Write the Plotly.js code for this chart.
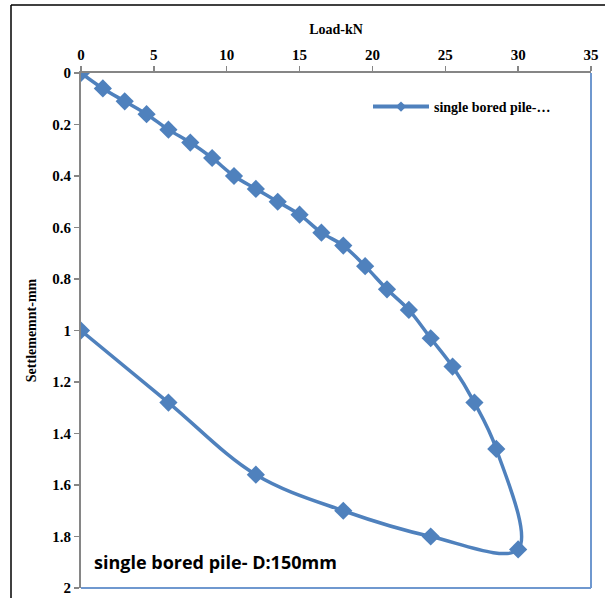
<!DOCTYPE html>
<html>
<head>
<meta charset="utf-8">
<script src="https://cdn.plot.ly/plotly-3.0.1.min.js"></script>
<style>
html,body{margin:0;padding:0;background:#fff;}
#chart{width:605px;height:598px;}
</style>
</head>
<body>
<div id="chart"></div>
<script>
// Load (kN) and settlement (mm): loading then unloading
const loadKN = [0, 1.5, 3, 4.5, 6, 7.5, 9, 10.5, 12, 13.5, 15, 16.5, 18, 19.5, 21, 22.5, 24, 25.5, 27, 28.5, 30,
                24, 18, 12, 6, 0];
const settlementMM = [0, 0.06, 0.11, 0.16, 0.22, 0.27, 0.33, 0.40, 0.45, 0.50, 0.55, 0.62, 0.67, 0.75, 0.84, 0.92, 1.03, 1.14, 1.28, 1.46, 1.85,
                      1.80, 1.70, 1.56, 1.28, 1.00];
const seriesName = "single bored pile-…";
const noteText = "single bored pile- D:150mm";
const xTickVals = [0, 5, 10, 15, 20, 25, 30, 35];
const xTickText = ["0", "5", "10", "15", "20", "25", "30", "35"];
const yTickVals = [0, 0.2, 0.4, 0.6, 0.8, 1, 1.2, 1.4, 1.6, 1.8, 2];
const yTickText = ["0", "0.2", "0.4", "0.6", "0.8", "1", "1.2", "1.4", "1.6", "1.8", "2"];

const W = 605, H = 598;
const L = 81, R = 14, T = 73, B = 10;
const pw = W - L - R, ph = H - T - B;
const px = v => (v - L) / pw;
const py = v => (H - B - v) / ph;

const serif = "'Liberation Serif', 'Times New Roman', serif";
const blue = "#4F81BD";
const axisGray = "#868686";
const bold = s => "<b>" + s + "</b>";

const trace = {
  x: loadKN,
  y: settlementMM,
  type: "scatter",
  mode: "lines+markers",
  name: seriesName,
  line: {color: blue, width: 3.5, shape: "spline", smoothing: 1.0},
  marker: {symbol: "diamond", size: 14, color: blue},
  showlegend: false
};

// legend entry (same series, drawn with Excel-like small legend marker)
const legendEntry = {
  x: [null], y: [null],
  type: "scatter",
  mode: "lines+markers",
  name: bold(seriesName),
  line: {color: blue, width: 4},
  marker: {symbol: "diamond", size: 8, color: blue},
  showlegend: true
};

const layout = {
  width: W, height: H,
  margin: {l: L, r: R, t: T, b: B, pad: 0},
  paper_bgcolor: "#ffffff",
  plot_bgcolor: "#ffffff",
  font: {family: serif, color: "#000", size: 14},
  xaxis: {
    side: "top",
    range: [0, 35],
    tickvals: xTickVals,
    ticktext: xTickText.map(bold),
    ticks: "outside", ticklen: 5, tickwidth: 1.5, tickcolor: axisGray,
    showline: true, linecolor: axisGray, linewidth: 2,
    showgrid: false, zeroline: false,
    tickfont: {family: serif, size: 15},
    title: {text: "<b>Load-kN</b>", font: {family: serif, size: 14}, standoff: 9},
    fixedrange: true
  },
  yaxis: {
    range: [2, 0],
    tickvals: yTickVals,
    ticktext: yTickText.map(bold),
    ticks: "outside", ticklen: 5, tickwidth: 1.5, tickcolor: axisGray,
    showline: true, linecolor: axisGray, linewidth: 2,
    showgrid: false, zeroline: false,
    tickfont: {family: serif, size: 15},
    title: {text: "<b>Settlememnt-mm</b>", font: {family: serif, size: 14}, standoff: 12},
    fixedrange: true
  },
  legend: {
    x: px(368), y: py(107), xanchor: "left", yanchor: "middle",
    bgcolor: "rgba(0,0,0,0)",
    itemwidth: 56,
    font: {family: serif, size: 14}
  },
  annotations: [{
    text: bold(noteText),
    xref: "paper", yref: "paper",
    x: px(92), y: py(562), xanchor: "left", yanchor: "middle",
    showarrow: false,
    font: {family: "'Open Sans', 'Noto Sans', sans-serif", size: 18, color: "#000"}
  }],
  shapes: [
    // plot area right and bottom border (blue)
    {type: "line", xref: "paper", yref: "paper", x0: 1, x1: 1, y0: 0, y1: 1, line: {color: "#6F98CF", width: 2}},
    {type: "line", xref: "paper", yref: "paper", x0: 0, x1: 1, y0: 0, y1: 0, line: {color: "#6F98CF", width: 2}},
    // outer chart frame (left and top edges visible)
    {type: "line", xref: "paper", yref: "paper", x0: px(11), x1: px(11), y0: py(610), y1: py(5), line: {color: "#000", width: 1.5}},
    {type: "line", xref: "paper", yref: "paper", x0: px(11), x1: px(610), y0: py(5), y1: py(5), line: {color: "#000", width: 1.5}}
  ]
};

Plotly.newPlot("chart", [trace, legendEntry], layout, {displayModeBar: false, staticPlot: true});
</script>
</body>
</html>
